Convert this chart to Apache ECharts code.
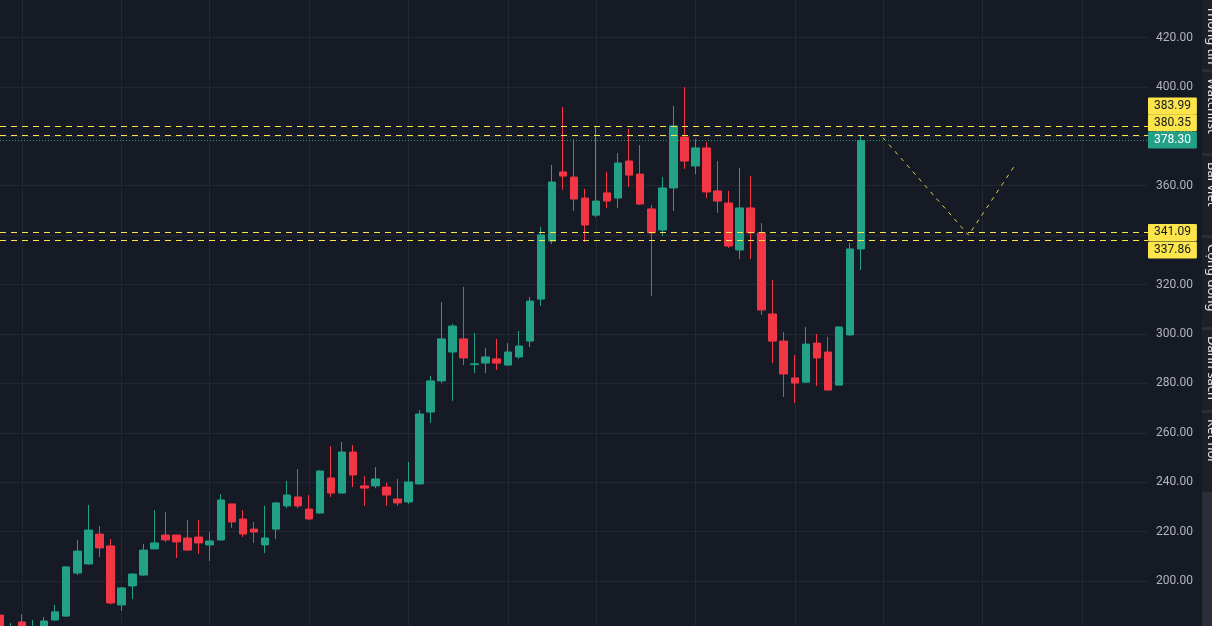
<!DOCTYPE html>
<html>
<head>
<meta charset="utf-8">
<script src="https://cdn.jsdelivr.net/npm/echarts@6/dist/echarts.min.js"></script>
<style>
html,body{margin:0;padding:0;background:#161a25;}
#chart{width:1212px;height:626px;}
</style>
</head>
<body>
<div id="chart"></div>
<script>
// ---- data ----
const opens  = [186.2,178.5,183.4,178.0,180.5,184.2,185.8,203.2,206.9,219.0,214.2,190.3,198.0,202.4,213.0,218.6,218.6,217.4,217.8,214.6,216.6,231.2,225.1,221.0,214.6,221.0,230.4,234.0,229.1,227.5,241.7,235.6,252.2,238.5,238.5,238.0,233.2,232.0,239.3,268.4,281.0,292.7,298.0,287.6,288.2,289.9,287.4,290.7,297.1,314.1,337.6,365.6,363.5,355.0,348.1,357.1,355.0,370.0,364.7,350.6,342.1,359.1,379.7,368.0,375.3,357.9,353.0,334.0,351.0,340.9,308.1,297.1,282.2,280.5,296.3,292.7,279.3,299.6,334.4];
const closes = [180.5,181.0,180.5,181.2,183.8,187.5,205.7,212.1,220.6,213.4,191.1,197.2,202.8,212.5,215.4,216.6,215.8,212.5,215.4,216.2,232.8,223.9,219.0,219.8,217.4,231.6,234.8,230.4,225.1,244.5,235.6,252.2,242.9,237.6,241.3,234.8,231.6,240.1,267.6,281.0,298.0,303.2,290.3,287.9,290.7,288.2,292.7,295.1,313.3,340.1,361.5,363.9,354.6,344.1,353.8,353.8,369.2,364.3,352.6,340.9,359.1,384.2,370.0,375.3,357.5,353.8,335.6,351.0,340.9,309.7,297.1,283.8,280.1,295.9,290.3,277.3,302.8,334.4,378.3];
const lows   = [179.0,176.0,179.0,176.5,179.5,183.8,185.5,202.4,206.5,209.7,190.5,187.9,192.7,202.0,212.8,215.8,209.3,212.3,210.9,208.1,216.4,221.5,217.8,215.4,211.3,217.0,229.5,229.5,224.9,227.3,234.0,235.4,238.0,230.4,237.6,230.4,230.4,231.2,239.0,264.0,280.1,272.9,287.4,284.2,284.2,285.4,287.3,289.9,294.7,311.3,336.4,358.3,349.8,337.2,347.3,351.0,351.0,359.5,352.2,315.4,339.6,349.8,366.8,364.7,355.0,349.0,334.8,330.3,330.3,307.7,288.2,274.5,272.1,280.3,278.9,277.0,279.0,299.2,325.9];
const highs  = [186.3,183.0,186.6,184.2,185.4,190.3,206.0,216.6,230.8,222.3,217.0,197.6,203.0,215.0,228.7,227.9,218.8,224.7,224.7,219.8,235.2,231.3,228.7,223.9,230.4,232.0,240.5,245.3,234.8,244.9,254.6,256.3,255.0,242.5,246.1,239.7,241.3,248.2,269.2,283.0,312.9,304.0,319.0,300.4,294.3,298.0,296.3,301.2,315.0,343.3,368.4,391.9,378.9,358.7,384.2,365.6,373.2,383.0,376.5,352.2,363.5,392.3,400.0,378.9,377.7,370.0,357.9,367.2,363.9,344.9,321.8,300.8,291.5,302.8,300.0,298.8,303.2,336.8,380.5];

const resistanceLevels = [383.99, 380.35];
const supportLevels    = [341.09, 337.86];
const lastPrice        = 378.30;
// projected path (slot index, price)
const pathX = [80.0, 87.75, 91.9];
const pathY = [379.4, 340.0, 368.0];
// bar slots where a period (month) gridline is drawn
const periodStarts = [2, 11, 19, 28, 37, 46, 54, 63, 72, 80, 89, 98];
const totalSlots = 105;
const yTicks = {min: 180, max: 440, step: 20};
const sideTabs = ['Thông tin', 'Watchlist', 'Bài viết', 'Cộng đồng', 'Danh sách', 'Kết nối'];

// ---- build ----
const categories = [];
for (let i = 0; i < totalSlots; i++) categories.push('D' + (i + 1));
const candles = opens.map((o, i) => [o, closes[i], lows[i], highs[i]]);
const pathData = pathX.map((x, i) => [x, pathY[i]]);

const UP = '#22a186', DOWN = '#f23645', YEL = '#fbe54b';
const labelBase = {
  show: true, position: 'end', distance: 0,
  fontSize: 12, fontFamily: 'Roboto, Arial, sans-serif', lineHeight: 13,
  padding: [2, 6, 2, 6], borderRadius: 1
};
const yellowLine = (v, dy) => ({
  yAxis: v,
  lineStyle: {color: YEL, type: [6, 5], width: 1, opacity: 1},
  label: Object.assign({}, labelBase, {formatter: v.toFixed(2), backgroundColor: YEL, color: '#131722', offset: [0, dy]})
});
const markData = [
  yellowLine(resistanceLevels[0], -20.5),
  yellowLine(resistanceLevels[1], -12.8),
  yellowLine(supportLevels[0], 0),
  yellowLine(supportLevels[1], 9.6),
  {
    yAxis: lastPrice,
    lineStyle: {color: UP, type: [1, 2], width: 1, opacity: 1},
    label: Object.assign({}, labelBase, {formatter: lastPrice.toFixed(2), backgroundColor: UP, color: '#ffffff', offset: [0, -0.5]})
  }
];

// side panel graphics
const tabBounds = [[0, 69], [72, 153], [156, 235], [238, 327], [330, 410], [413, 492]];
const graphics = [{type: 'rect', shape: {x: 1202, y: 0, width: 10, height: 626}, style: {fill: '#2a2e39'}, silent: true}];
tabBounds.forEach((b, i) => {
  graphics.push({type: 'rect', shape: {x: 1202, y: b[0], width: 10, height: b[1] - b[0]}, style: {fill: '#1c2029'}, silent: true});
  graphics.push({
    type: 'text', x: 1205, y: b[0] + 6, rotation: -Math.PI / 2, silent: true,
    style: {text: sideTabs[i], x: 0, y: 0, align: 'left', verticalAlign: 'bottom', fill: '#e0e3eb', font: '13px "Noto Sans", Arial, sans-serif'}
  });
});

const chart = echarts.init(document.getElementById('chart'), null, {renderer: 'canvas'});
chart.setOption({
  backgroundColor: '#161a25',
  animation: false,
  grid: {left: 0, right: 64, top: -11.9, bottom: -4.4, containLabel: false, outerBoundsMode: 'none'},
  xAxis: [{
    type: 'category', data: categories, boundaryGap: false,
    axisLine: {show: false}, axisTick: {show: false}, axisLabel: {show: false},
    splitLine: {show: true, interval: (idx) => periodStarts.includes(idx), lineStyle: {color: '#232633', width: 1}}
  }, {
    type: 'value', min: 0, max: totalSlots - 1, show: false
  }],
  yAxis: {
    type: 'value', position: 'right', min: yTicks.min, max: yTicks.max, interval: yTicks.step,
    axisLine: {show: false}, axisTick: {show: false},
    axisLabel: {color: '#b2b5be', fontSize: 12, margin: 8, fontFamily: 'Roboto, Arial, sans-serif',
      showMinLabel: false, showMaxLabel: false, formatter: v => v.toFixed(2)},
    splitLine: {show: true, lineStyle: {color: '#232633', width: 1}}
  },
  series: [{
    type: 'candlestick', data: candles, barWidth: 8,
    itemStyle: {color: UP, color0: DOWN, borderColor: UP, borderColor0: DOWN, borderWidth: 1},
    markLine: {
      symbol: ['none', 'none'], silent: true, animation: false, data: markData, z: 5,
      lineStyle: {color: YEL, type: [6, 5], width: 1, opacity: 1},
      emphasis: {disabled: true}
    }
  }, {
    type: 'line', xAxisIndex: 1, data: pathData, symbol: 'none', silent: true,
    lineStyle: {color: '#e3cf45', width: 1, type: [4, 5]}, z: 4
  }],
  graphic: graphics
});
</script>
</body>
</html>
